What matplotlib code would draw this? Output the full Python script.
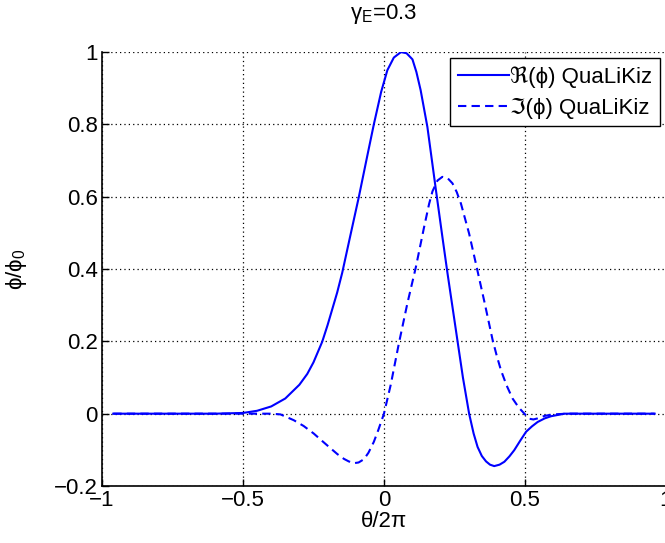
import matplotlib
matplotlib.use('Agg')
import matplotlib.pyplot as plt
from matplotlib.ticker import FuncFormatter

plt.rcParams['font.family'] = ['Liberation Sans', 'DejaVu Sans']
plt.rcParams['mathtext.fontset'] = 'custom'
plt.rcParams['mathtext.rm'] = 'Liberation Sans'
plt.rcParams['mathtext.it'] = 'Liberation Sans'

# Values
theta_re = [-0.96, -0.6, -0.55, -0.5, -0.45, -0.4, -0.35, -0.3, -0.272, -0.25,
            -0.219, -0.2, -0.166, -0.148, -0.12, -0.089, -0.06, -0.036, -0.01, 0.012,
            0.035, 0.06, 0.08, 0.101, 0.115, 0.13, 0.154, 0.184, 0.207, 0.225,
            0.243, 0.261, 0.28, 0.302, 0.318, 0.332, 0.347, 0.362, 0.376, 0.391,
            0.41, 0.427, 0.445, 0.462, 0.483, 0.504, 0.525, 0.545, 0.57, 0.593,
            0.64, 0.96]
phi_re = [0.0, 0.0, 0.001, 0.002, 0.008, 0.02, 0.042, 0.08, 0.11, 0.142,
          0.199, 0.245, 0.335, 0.39, 0.49, 0.6, 0.71, 0.8, 0.89, 0.95,
          0.985, 1.0, 0.997, 0.98, 0.945, 0.895, 0.793, 0.62, 0.49, 0.39,
          0.295, 0.2, 0.1, 0.0, -0.055, -0.092, -0.117, -0.132, -0.141, -0.145,
          -0.141, -0.133, -0.118, -0.101, -0.075, -0.05, -0.035, -0.023, -0.013, -0.007,
          0.0, 0.0]

theta_im = [-0.96, -0.4, -0.367, -0.32, -0.285, -0.249, -0.22, -0.189, -0.165, -0.142,
            -0.125, -0.107, -0.09, -0.071, -0.055, -0.036, -0.02, 0.0, 0.024, 0.053,
            0.083, 0.113, 0.142, 0.16, 0.172, 0.19, 0.207, 0.225, 0.243, 0.258,
            0.273, 0.302, 0.326, 0.356, 0.385, 0.4, 0.415, 0.435, 0.456, 0.478,
            0.498, 0.515, 0.53, 0.545, 0.57, 0.6, 0.65, 0.96]
phi_im = [0.0, 0.0, -0.002, -0.018, -0.034, -0.055, -0.075, -0.096, -0.112, -0.125,
          -0.132, -0.137, -0.135, -0.126, -0.108, -0.078, -0.045, 0.0, 0.08, 0.195,
          0.305, 0.405, 0.515, 0.58, 0.615, 0.645, 0.655, 0.652, 0.637, 0.613,
          0.581, 0.498, 0.415, 0.31, 0.205, 0.16, 0.12, 0.078, 0.042, 0.017,
          0.0, -0.014, -0.016, -0.013, -0.006, -0.002, 0.0, 0.0]

fig = plt.figure(figsize=(6.65, 5.43), dpi=100)
ax = fig.add_axes([0.1534, 0.105, 0.848, 0.799])

ax.plot(theta_re, phi_re, color='blue', lw=1.5, label='ℜ(ϕ) QuaLiKiz')
ax.plot(theta_im, phi_im, color='blue', lw=1.5, ls=(0, (4, 2.5)), label='ℑ(ϕ) QuaLiKiz')

ax.set_xlim(-1, 1)
ax.set_ylim(-0.2, 1)
ax.set_xticks([-1, -0.5, 0, 0.5, 1])
ax.set_yticks([-0.2, 0, 0.2, 0.4, 0.6, 0.8, 1])
fmt = FuncFormatter(lambda v, p: ('%g' % round(v, 2)).replace('-', '\u2212'))
ax.xaxis.set_major_formatter(fmt)
ax.yaxis.set_major_formatter(fmt)
ax.tick_params(direction='in', length=5, width=1, labelsize=16, pad=3)
ax.grid(True, color='black', ls=(0, (1, 2.5)), lw=0.9)

ax.spines['top'].set_visible(False)
ax.spines['right'].set_visible(False)
ax.spines['left'].set_linewidth(1.2)
ax.spines['bottom'].set_linewidth(1.2)

ax.set_xlabel('θ/2π', fontsize=16, labelpad=0)
ax.set_ylabel('ϕ/ϕ$_0$', fontsize=16, labelpad=18)
ax.set_title('γ$_E$=0.3', fontsize=16, pad=24)

leg = ax.legend(loc='upper right', bbox_to_anchor=(0.99, 0.986), borderaxespad=0,
                fontsize=16, fancybox=False, framealpha=1, edgecolor='black',
                handlelength=2.3, handletextpad=0.05, labelspacing=0.45,
                borderpad=0.35)
leg.get_frame().set_linewidth(1.0)

fig.savefig('out.png', dpi=100)
